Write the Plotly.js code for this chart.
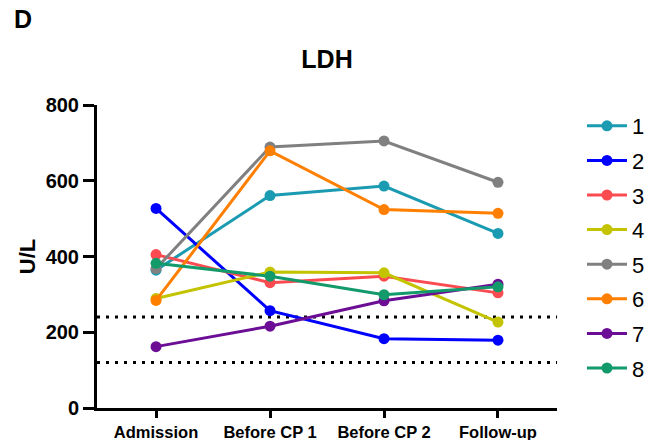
<!DOCTYPE html>
<html>
<head>
<meta charset="utf-8">
<script src="https://cdn.plot.ly/plotly-3.0.1.min.js"></script>
<style>html,body{margin:0;padding:0;background:#fff;}#chart{width:654px;height:440px;}</style>
</head>
<body>
<div id="chart"></div>
<script>
const categories = ["Admission", "Before CP 1", "Before CP 2", "Follow-up"];
const seriesNames = ["1", "2", "3", "4", "5", "6", "7", "8"];
const s1 = [364, 561, 586, 461];
const s2 = [527, 257, 183, 179];
const s3 = [405, 331, 348, 304];
const s4 = [289, 359, 357, 227];
const s5 = [368, 689, 705, 596];
const s6 = [284, 679, 524, 514];
const s7 = [162, 216, 283, 327];
const s8 = [382, 348, 299, 320];
const refUpper = 240;
const refLower = 120;
const yTicks = [0, 200, 400, 600, 800];

const seriesValues = [s1, s2, s3, s4, s5, s6, s7, s8];
const colors = ["#1a9bb1", "#0000ff", "#f94b50", "#c3c300", "#808080", "#ff7f00", "#6c0d96", "#139a6b"];
const FONT = "Liberation Sans, Arial, sans-serif";

const traces = seriesValues.map((vals, i) => ({
  x: categories,
  y: vals,
  name: seriesNames[i],
  legendgroup: "g" + seriesNames[i],
  type: "scatter",
  mode: "lines+markers",
  line: {color: colors[i], width: 3},
  marker: {color: colors[i], size: 11},
  cliponaxis: false
}));

// paper area: 97..654 (557 px wide); plot area 97..557
const layout = {
  width: 654, height: 440,
  margin: {l: 97, r: 0, t: 105, b: 32},
  paper_bgcolor: "#fff", plot_bgcolor: "#fff",
  showlegend: true,
  legend: {
    x: 0.8707, xanchor: "left", y: 1.0, yanchor: "top",
    font: {family: FONT, size: 22, color: "#000"},
    tracegroupgap: 3, itemwidth: 40
  },
  title: {text: "<b>LDH</b>", x: 0.413, xref: "paper", xanchor: "center", y: 0.865, yref: "container", yanchor: "middle",
          font: {family: FONT, size: 25, color: "#000"}},
  xaxis: {
    type: "category", range: [-0.518, 3.518], domain: [0, 0.8259],
    showline: true, linecolor: "#000", linewidth: 3,
    ticks: "outside", ticklen: 7, tickwidth: 3, tickcolor: "#000",
    showgrid: false, zeroline: false,
    tickfont: {family: FONT, size: 16.5, color: "#000", weight: "bold"}
  },
  yaxis: {
    range: [0, 800], tickvals: yTicks, ticktext: yTicks.map(String),
    showline: true, linecolor: "#000", linewidth: 3,
    ticks: "outside", ticklen: 11, tickwidth: 3, tickcolor: "#000",
    showgrid: false, zeroline: false,
    tickfont: {family: FONT, size: 20, color: "#000", weight: "bold"},
    title: {text: "<b>U/L</b>", font: {family: FONT, size: 22, color: "#000"}, standoff: 4}
  },
  shapes: [refUpper, refLower].map(v => ({
    type: "line", xref: "x domain", x0: 0, x1: 1, yref: "y", y0: v, y1: v,
    line: {color: "#000", width: 3, dash: "3px,6px"}, layer: "below"
  })),
  annotations: [{
    text: "<b>D</b>", xref: "paper", yref: "paper", x: -0.1526, y: 1.285, xanchor: "left", yanchor: "middle",
    showarrow: false, font: {family: FONT, size: 25, color: "#000"}
  }]
};

Plotly.newPlot("chart", traces, layout, {displayModeBar: false, staticPlot: true});
</script>
</body>
</html>
